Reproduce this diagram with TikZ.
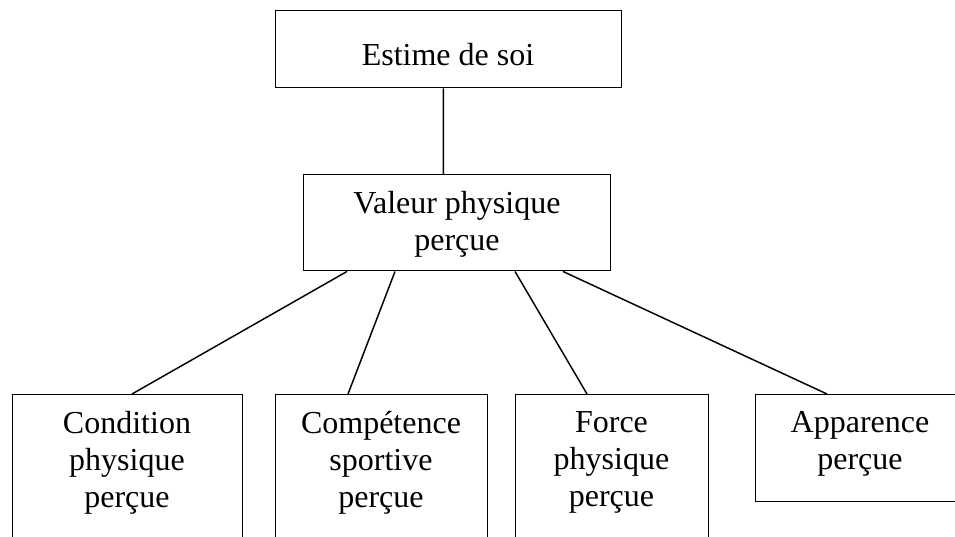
\documentclass[tikz,border=0pt]{standalone}
\usepackage{fontspec}
\setmainfont{Liberation Serif}
\begin{document}
\begin{tikzpicture}[x=0.75pt,y=-0.75pt,
  box/.style={draw,line width=1.1pt,rectangle,inner sep=0pt,anchor=north west},
  txt/.style={font={\fontsize{24}{27.75}\selectfont},align=center,inner sep=0pt},
  link/.style={line width=1.1pt}]
\useasboundingbox (0,0) rectangle (955,536);
\clip (0,0) rectangle (955,536);
% boxes
\node[box,minimum width=259.5pt,minimum height=57.75pt] (top) at (275,10) {};
\node[box,minimum width=230.25pt,minimum height=72pt] (mid) at (303,174) {};
\node[box,minimum width=172.5pt,minimum height=150pt] (c1) at (12,394) {};
\node[box,minimum width=159pt,minimum height=150pt] (c2) at (275,394) {};
\node[box,minimum width=144.75pt,minimum height=150pt] (c3) at (515,394) {};
\node[box,minimum width=157.5pt,minimum height=80.25pt] (c4) at (755,394) {};
% texts
\node[txt,anchor=base] (ttop) at (448,65) {Estime de soi};
\node[txt,anchor=north] (tmid) at (457,191) {Valeur physique\\perçue};
\node[txt,anchor=north] (tc1) at (127,411) {Condition\\physique\\perçue};
\node[txt,anchor=north] (tc2) at (381,411) {Compétence\\sportive\\perçue};
\node[txt,anchor=north] (tc3) at (611.5,411) {Force\\physique\\perçue};
\node[txt,anchor=north] (tc4) at (860,411) {Apparence\\perçue};
% connectors
\draw[link] ([xshift=-4pt]top.south) -- ([xshift=-10.35pt]mid.north);
\draw[link] ([xshift=33pt]mid.south west) -- ([xshift=90pt]c1.north west);
\draw[link] ([xshift=69pt]mid.south west) -- ([xshift=54.75pt]c2.north west);
\draw[link] ([xshift=159pt]mid.south west) -- ([xshift=54pt]c3.north west);
\draw[link] ([xshift=195pt]mid.south west) -- ([xshift=54pt]c4.north west);
\end{tikzpicture}
\end{document}
